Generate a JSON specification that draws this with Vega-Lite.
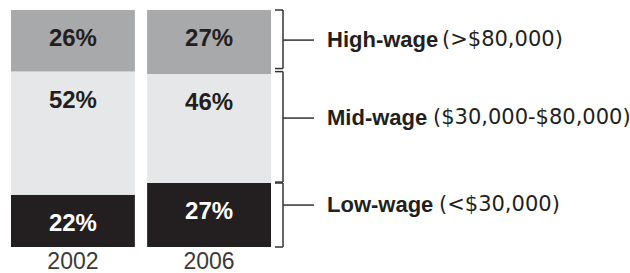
{
  "$schema": "https://vega.github.io/schema/vega-lite/v6.json",
  "background": "white",
  "padding": {"left": 11, "top": 9, "right": 0, "bottom": 0},
  "spacing": 0,
  "config": {"view": {"stroke": null}, "font": "Liberation Sans"},
  "datasets": {
    "wages": [
      {"year": "2002", "tier": "Low-wage", "rank": 1, "share": 0.22},
      {"year": "2002", "tier": "Mid-wage", "rank": 2, "share": 0.52},
      {"year": "2002", "tier": "High-wage", "rank": 3, "share": 0.26},
      {"year": "2006", "tier": "Low-wage", "rank": 1, "share": 0.27},
      {"year": "2006", "tier": "Mid-wage", "rank": 2, "share": 0.46},
      {"year": "2006", "tier": "High-wage", "rank": 3, "share": 0.27}
    ],
    "brackets": [
      {"tier": "High-wage", "range": "(>$80,000)", "lo": 0.753, "hi": 1.0, "mark": 0.873},
      {"tier": "Mid-wage", "range": "($30,000-$80,000)", "lo": 0.274, "hi": 0.740, "mark": 0.544},
      {"tier": "Low-wage", "range": "(<$30,000)", "lo": 0.0, "hi": 0.27, "mark": 0.177}
    ]
  },
  "resolve": {"scale": {"x": "independent", "y": "independent"}},
  "hconcat": [
    {
      "width": 260,
      "height": 237,
      "data": {"name": "wages"},
      "transform": [
        {"stack": "share", "groupby": ["year"], "sort": [{"field": "rank", "order": "ascending"}], "as": ["y0", "y1"]}
      ],
      "encoding": {
        "x": {
          "field": "year",
          "type": "nominal",
          "scale": {"paddingInner": 0.09, "paddingOuter": 0},
          "axis": {"orient": "bottom", "domain": false, "ticks": false, "labelFontSize": 23, "labelPadding": 3, "labelColor": "#3a3a3a", "labelFont": "Liberation Sans", "labelAngle": 0, "title": null}
        }
      },
      "layer": [
        {
          "mark": {"type": "bar"},
          "encoding": {
            "y": {"field": "y0", "type": "quantitative", "scale": {"domain": [0, 1], "nice": false}, "axis": null},
            "y2": {"field": "y1"},
            "color": {
              "field": "tier",
              "type": "nominal",
              "scale": {"domain": ["Low-wage", "Mid-wage", "High-wage"], "range": ["#231f20", "#e6e7e8", "#a8a9ab"]},
              "legend": null
            }
          }
        },
        {
          "mark": {"type": "text", "baseline": "middle", "align": "center", "dy": 29, "fontSize": 24, "fontWeight": "bold", "font": "Liberation Sans"},
          "encoding": {
            "y": {"field": "y1", "type": "quantitative"},
            "text": {"field": "share", "type": "quantitative", "format": ".0%"},
            "color": {"condition": {"test": "datum.tier === 'Low-wage'", "value": "#ffffff"}, "value": "#231f20"}
          }
        }
      ]
    },
    {
      "width": 359,
      "height": 237,
      "data": {"name": "brackets"},
      "layer": [
        {
          "mark": {"type": "rule", "color": "#333333", "strokeWidth": 1.5},
          "encoding": {
            "x": {"datum": 1.2, "type": "quantitative", "scale": {"domain": [0, 35.9], "nice": false, "zero": false}, "axis": null},
            "y": {"field": "lo", "type": "quantitative", "scale": {"domain": [0, 1], "nice": false}, "axis": null},
            "y2": {"field": "hi"}
          }
        },
        {
          "mark": {"type": "rule", "color": "#333333", "strokeWidth": 1.5},
          "encoding": {
            "x": {"datum": 0.4, "type": "quantitative"},
            "x2": {"datum": 1.2},
            "y": {"field": "hi", "type": "quantitative"}
          }
        },
        {
          "mark": {"type": "rule", "color": "#333333", "strokeWidth": 1.5},
          "encoding": {
            "x": {"datum": 0.4, "type": "quantitative"},
            "x2": {"datum": 1.2},
            "y": {"field": "lo", "type": "quantitative"}
          }
        },
        {
          "mark": {"type": "rule", "color": "#333333", "strokeWidth": 1.5},
          "encoding": {
            "x": {"datum": 1.2, "type": "quantitative"},
            "x2": {"datum": 4.3},
            "y": {"field": "mark", "type": "quantitative"}
          }
        },
        {
          "mark": {"type": "text", "align": "left", "baseline": "middle", "fontSize": 22, "fontWeight": "bold", "font": "Liberation Sans", "color": "#231f20"},
          "encoding": {
            "x": {"datum": 5.6, "type": "quantitative"},
            "y": {"field": "mark", "type": "quantitative"},
            "text": {"field": "tier"}
          }
        },
        {
          "transform": [{"filter": "datum.tier === 'High-wage'"}],
          "mark": {"type": "text", "align": "left", "baseline": "middle", "fontSize": 21, "font": "DejaVu Sans", "color": "#231f20"},
          "encoding": {
            "x": {"datum": 17.1, "type": "quantitative"},
            "y": {"field": "mark", "type": "quantitative"},
            "text": {"field": "range"}
          }
        },
        {
          "transform": [{"filter": "datum.tier === 'Mid-wage'"}],
          "mark": {"type": "text", "align": "left", "baseline": "middle", "fontSize": 21, "font": "DejaVu Sans", "color": "#231f20"},
          "encoding": {
            "x": {"datum": 16.2, "type": "quantitative"},
            "y": {"field": "mark", "type": "quantitative"},
            "text": {"field": "range"}
          }
        },
        {
          "transform": [{"filter": "datum.tier === 'Low-wage'"}],
          "mark": {"type": "text", "align": "left", "baseline": "middle", "fontSize": 21, "font": "DejaVu Sans", "color": "#231f20"},
          "encoding": {
            "x": {"datum": 16.8, "type": "quantitative"},
            "y": {"field": "mark", "type": "quantitative"},
            "text": {"field": "range"}
          }
        }
      ]
    }
  ]
}
